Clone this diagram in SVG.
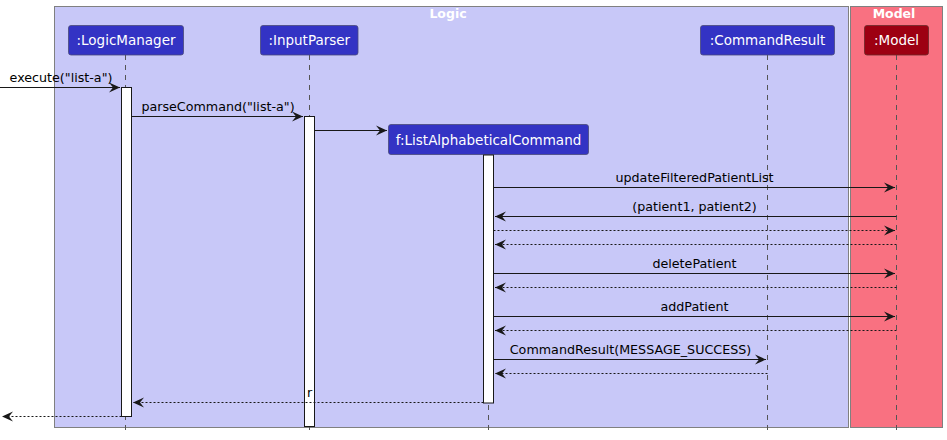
<svg xmlns="http://www.w3.org/2000/svg" width="947" height="440" viewBox="0 0 947 440">
<defs>
<marker id="ah" markerUnits="userSpaceOnUse" markerWidth="14" markerHeight="12" refX="11" refY="5" orient="auto" overflow="visible">
<path d="M0,0 L11,5 L0,10 L4,5 Z" fill="#181818"/>
</marker>
<style>
.box{stroke:#808080;stroke-width:1}
.title{font-family:"DejaVu Sans",sans-serif;font-size:12.5px;font-weight:bold;fill:#ffffff;text-anchor:middle}
.part{fill:#3333C4;stroke:#4a4a7a;stroke-width:0.8}
.partm{fill:#9D0012;stroke:#6a2a2a;stroke-width:0.8}
.pt{font-family:"DejaVu Sans",sans-serif;font-size:13.5px;fill:#ffffff;text-anchor:middle}
.life{stroke:#555555;stroke-width:1;stroke-dasharray:5,5;fill:none}
.act{fill:#ffffff;stroke:#181818;stroke-width:1}
.msg{stroke:#181818;stroke-width:1;fill:none;marker-end:url(#ah)}
.ret{stroke:#181818;stroke-width:1;fill:none;stroke-dasharray:2,2;marker-end:url(#ah)}
.ml{font-family:"DejaVu Sans",sans-serif;font-size:12.7px;fill:#000000;text-anchor:middle}
</style>
</defs>
<rect width="947" height="440" fill="#ffffff"/>
<g id="box-logic">
<rect class="box" x="54.5" y="6.5" width="794" height="421" fill="#C8C8F8"/>
<text class="title" x="448" y="18">Logic</text>
</g>
<g id="box-model">
<rect class="box" x="850.5" y="6.5" width="92" height="421" fill="#F97181"/>
<text class="title" x="894" y="18">Model</text>
</g>
<g id="lifelines">
<line class="life" x1="125.5" y1="55" x2="125.5" y2="431"/>
<line class="life" x1="309.5" y1="55" x2="309.5" y2="431"/>
<line class="life" x1="488.5" y1="155" x2="488.5" y2="431"/>
<line class="life" x1="767.5" y1="55" x2="767.5" y2="431"/>
<line class="life" x1="896.5" y1="55" x2="896.5" y2="431"/>
</g>
<g id="LogicManager">
<rect class="part" x="68.5" y="25.5" width="115" height="29.5" rx="2.5"/>
<text class="pt" x="126" y="45">:LogicManager</text>
</g>
<g id="InputParser">
<rect class="part" x="260.5" y="25.5" width="97.5" height="29.5" rx="2.5"/>
<text class="pt" x="309.3" y="45">:InputParser</text>
</g>
<g id="CommandResult">
<rect class="part" x="700.5" y="25.5" width="134" height="29.5" rx="2.5"/>
<text class="pt" x="767.5" y="45">:CommandResult</text>
</g>
<g id="Model">
<rect class="partm" x="864.5" y="25.5" width="64" height="29.5" rx="2.5"/>
<text class="pt" x="896.5" y="45">:Model</text>
</g>
<g id="ListAlphabeticalCommand">
<rect class="part" x="388.5" y="124.5" width="200" height="30" rx="2.5"/>
<text class="pt" x="488.5" y="145">f:ListAlphabeticalCommand</text>
</g>
<g id="activations">
<rect class="act" x="121.5" y="87.5" width="10" height="329"/>
<rect class="act" x="304.5" y="116.5" width="10" height="310"/>
<rect class="act" x="483.5" y="155" width="10" height="248"/>
</g>
<g id="connectors">
<line class="msg" x1="0" y1="87.5" x2="120" y2="87.5"/>
<text class="ml" x="61" y="82">execute("list-a")</text>
<line class="msg" x1="131.5" y1="116.5" x2="303" y2="116.5"/>
<text class="ml" x="218" y="111">parseCommand("list-a")</text>
<line class="msg" x1="314.5" y1="130.5" x2="387" y2="130.5"/>
<line class="msg" x1="493.5" y1="187.5" x2="895" y2="187.5"/>
<text class="ml" x="694.5" y="182">updateFilteredPatientList</text>
<line class="msg" x1="896.5" y1="216.5" x2="495" y2="216.5"/>
<text class="ml" x="694.5" y="211">(patient1, patient2)</text>
<line class="ret" x1="493.5" y1="230.5" x2="895" y2="230.5"/>
<line class="ret" x1="896.5" y1="244.5" x2="495" y2="244.5"/>
<line class="msg" x1="493.5" y1="273.5" x2="895" y2="273.5"/>
<text class="ml" x="694.5" y="268">deletePatient</text>
<line class="ret" x1="896.5" y1="287.5" x2="495" y2="287.5"/>
<line class="msg" x1="493.5" y1="316.5" x2="895" y2="316.5"/>
<text class="ml" x="694.5" y="311">addPatient</text>
<line class="ret" x1="896.5" y1="330.5" x2="495" y2="330.5"/>
<line class="msg" x1="493.5" y1="359.5" x2="766" y2="359.5"/>
<text class="ml" x="630.5" y="354">CommandResult(MESSAGE_SUCCESS)</text>
<line class="ret" x1="767.5" y1="373.5" x2="495" y2="373.5"/>
<line class="ret" x1="483.5" y1="402.5" x2="133" y2="402.5"/>
<text class="ml" x="309.5" y="397">r</text>
<line class="ret" x1="121.5" y1="416.5" x2="2" y2="416.5"/>
</g>
</svg>
